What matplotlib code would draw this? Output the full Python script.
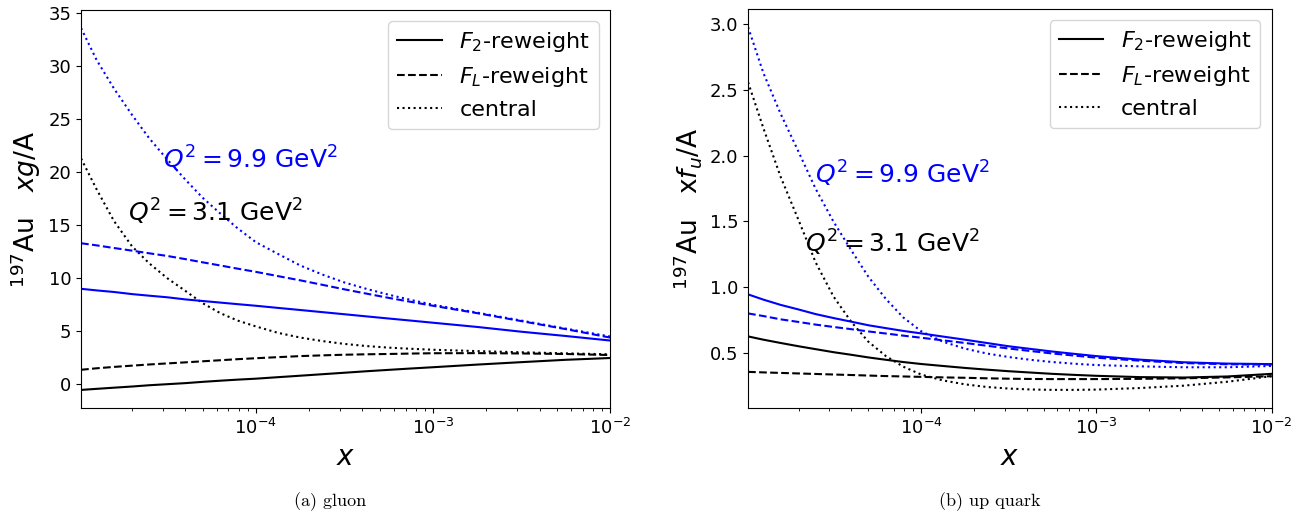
import numpy as np
import matplotlib
matplotlib.use("Agg")
import matplotlib.pyplot as plt

# shared x grid
x = [1.03e-5, 1.26e-5, 1.58e-5, 2.0e-5, 2.5e-5, 3.16e-5, 4.0e-5, 5.0e-5, 6.3e-5,
     7.9e-5, 1.0e-4, 1.33e-4, 1.78e-4, 2.37e-4, 3.16e-4, 4.2e-4, 5.6e-4, 7.5e-4,
     1.0e-3, 1.78e-3, 3.16e-3, 5.6e-3, 1.0e-2]

# gluon, Q^2 = 9.9 GeV^2 (blue)
g_hi_f2 = [9.0, 8.85, 8.7, 8.5, 8.35, 8.2, 8.0, 7.85, 7.7, 7.55, 7.4, 7.2, 7.0, 6.8,
           6.6, 6.4, 6.2, 6.0, 5.8, 5.4, 4.95, 4.55, 4.12]
g_hi_fl = [13.3, 13.1, 12.85, 12.6, 12.35, 12.1, 11.8, 11.5, 11.2, 10.9, 10.6, 10.2, 9.8, 9.38,
           8.95, 8.55, 8.15, 7.77, 7.4, 6.7, 5.95, 5.2, 4.4]
g_hi_c = [33.6, 30.6, 27.9, 25.4, 23.2, 21.2, 19.3, 17.6, 16.1, 14.7, 13.4, 12.3, 11.2, 10.35,
          9.6, 9.0, 8.45, 7.95, 7.5, 6.75, 6.0, 5.25, 4.5]
# gluon, Q^2 = 3.1 GeV^2 (black)
g_lo_f2 = [-0.54, -0.44, -0.33, -0.22, -0.1, 0.0, 0.1, 0.22, 0.33, 0.43, 0.52, 0.66, 0.8, 0.94,
           1.08, 1.22, 1.35, 1.48, 1.6, 1.85, 2.08, 2.3, 2.47]
g_lo_fl = [1.36, 1.5, 1.63, 1.75, 1.86, 1.96, 2.06, 2.16, 2.26, 2.36, 2.45, 2.55, 2.65, 2.72,
           2.78, 2.82, 2.85, 2.89, 2.92, 2.93, 2.9, 2.85, 2.75]
g_lo_c = [21.3, 18.4, 15.4, 13.0, 11.4, 10.0, 8.8, 7.65, 6.7, 6.0, 5.45, 4.85, 4.4, 4.07,
          3.8, 3.6, 3.45, 3.34, 3.25, 3.12, 3.01, 2.91, 2.82]

# up quark, Q^2 = 9.9 GeV^2 (blue)
u_hi_f2 = [0.945, 0.905, 0.865, 0.83, 0.795, 0.765, 0.737, 0.71, 0.688, 0.667, 0.648, 0.624,
           0.6, 0.575, 0.55, 0.53, 0.51, 0.492, 0.475, 0.448, 0.428, 0.418, 0.414]
u_hi_fl = [0.80, 0.78, 0.755, 0.735, 0.715, 0.697, 0.68, 0.663, 0.647, 0.631, 0.615, 0.595,
           0.575, 0.554, 0.533, 0.514, 0.495, 0.479, 0.463, 0.44, 0.422, 0.413, 0.41]
u_hi_c = [2.98, 2.63, 2.32, 2.03, 1.75, 1.50, 1.28, 1.08, 0.91, 0.77, 0.665, 0.585,
          0.532, 0.495, 0.468, 0.447, 0.43, 0.417, 0.407, 0.397, 0.39, 0.39, 0.40]
# up quark, Q^2 = 3.1 GeV^2 (black)
u_lo_f2 = [0.625, 0.6, 0.575, 0.55, 0.528, 0.505, 0.485, 0.465, 0.447, 0.43, 0.415, 0.4,
           0.385, 0.372, 0.36, 0.35, 0.34, 0.332, 0.325, 0.315, 0.312, 0.32, 0.34]
u_lo_fl = [0.355, 0.351, 0.347, 0.343, 0.339, 0.335, 0.331, 0.327, 0.323, 0.32, 0.317, 0.313,
           0.31, 0.306, 0.303, 0.301, 0.3, 0.3, 0.3, 0.302, 0.306, 0.313, 0.322]
u_lo_c = [2.56, 2.21, 1.84, 1.51, 1.19, 0.93, 0.735, 0.585, 0.475, 0.395, 0.335, 0.29,
          0.26, 0.24, 0.228, 0.221, 0.218, 0.218, 0.22, 0.232, 0.25, 0.28, 0.322]

panels = [
    dict(hi=(g_hi_f2, g_hi_fl, g_hi_c), lo=(g_lo_f2, g_lo_fl, g_lo_c),
         ylabel=r'$^{197}$Au   $xg$/A', caption='(a) gluon',
         hi_pos=(3.0e-5, 21.3), lo_pos=(1.9e-5, 16.3)),
    dict(hi=(u_hi_f2, u_hi_fl, u_hi_c), lo=(u_lo_f2, u_lo_fl, u_lo_c),
         ylabel=r'$^{197}$Au   x$f_u$/A', caption='(b) up quark',
         hi_pos=(2.47e-5, 1.86), lo_pos=(2.19e-5, 1.34)),
]

fig = plt.figure(figsize=(13.01, 5.16), dpi=100)
rects = [[0.0623, 0.2093, 0.4066, 0.7713], [0.575, 0.2093, 0.4024, 0.7733]]
caption_x = [0.254, 0.761]

for p, rect, cx in zip(panels, rects, caption_x):
    ax = fig.add_axes(rect)
    f2, fl, c = p['lo']
    ax.plot(x, f2, 'k-', lw=1.5, label=r'$F_2$-reweight')
    ax.plot(x, fl, 'k--', lw=1.5, label=r'$F_L$-reweight')
    ax.plot(x, c, 'k:', lw=1.5, label='central')
    f2, fl, c = p['hi']
    ax.plot(x, f2, 'b-', lw=1.5)
    ax.plot(x, fl, 'b--', lw=1.5)
    ax.plot(x, c, 'b:', lw=1.5)
    ax.set_xscale('log')
    ax.set_xlim(x[0], x[-1])
    ax.tick_params(labelsize=13)
    ax.set_xlabel(r'$x$', fontsize=20)
    ax.set_ylabel(p['ylabel'], fontsize=19)
    ax.text(*p['hi_pos'], r'$Q^2 = 9.9$ GeV$^2$', color='b', fontsize=18,
            ha='left', va='center')
    ax.text(*p['lo_pos'], r'$Q^2 = 3.1$ GeV$^2$', color='k', fontsize=18,
            ha='left', va='center')
    ax.legend(loc='upper right', fontsize=16)
    fig.text(cx, 0.02, p['caption'], family='cmr10', fontsize=13, ha='center')

fig.savefig('out.png', dpi=100)
